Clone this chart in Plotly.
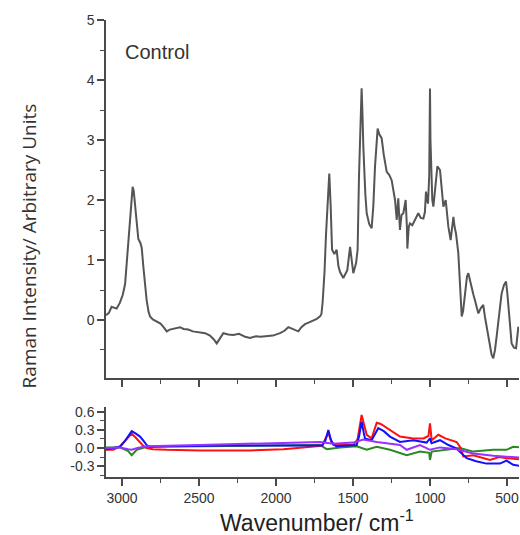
import plotly.graph_objects as go

# ---- Control spectrum (top panel) ----
control_wn = [3104,3085,3068,3050,3035,3015,2995,2980,2965,2950,2940,2931,2924,2916,2905,2894,2880,2872,2860,2850,2840,2828,2818,2800,2775,2750,2730,2710,2690,2660,2623,2600,2570,2540,2494,2460,2429,2405,2385,2365,2342,2310,2278,2240,2200,2169,2130,2100,2061,2020,1974,1945,1920,1890,1855,1835,1812,1785,1758,1735,1714,1705,1697,1685,1675,1664,1654,1645,1636,1621,1606,1595,1584,1563,1550,1537,1519,1508,1498,1480,1470,1461,1452,1444,1438,1433,1420,1411,1395,1379,1368,1357,1340,1330,1314,1300,1281,1265,1249,1235,1227,1216,1206,1195,1185,1173,1158,1150,1147,1138,1130,1115,1097,1076,1060,1043,1033,1026,1018,1013,1005,1002,1000,997,991,985,978,965,952,935,922,913,898,890,881,866,856,848,840,831,816,805,794,785,773,760,751,740,729,718,708,697,686,670,654,643,632,620,610,600,589,578,566,556,545,535,520,506,498,491,480,470,455,441,426]
control_int = [0.08,0.12,0.22,0.20,0.19,0.28,0.42,0.60,1.10,1.60,1.95,2.22,2.15,1.95,1.60,1.35,1.28,1.20,0.85,0.55,0.33,0.14,0.06,0.01,-0.03,-0.06,-0.12,-0.19,-0.16,-0.14,-0.12,-0.15,-0.16,-0.19,-0.21,-0.22,-0.26,-0.32,-0.39,-0.30,-0.22,-0.24,-0.25,-0.23,-0.28,-0.30,-0.27,-0.28,-0.27,-0.26,-0.22,-0.18,-0.12,-0.15,-0.19,-0.12,-0.07,-0.04,-0.01,0.02,0.06,0.10,0.30,0.80,1.44,2.10,2.44,1.90,1.17,1.10,1.17,0.90,0.80,0.70,0.78,0.83,1.22,1.00,0.78,0.95,1.17,2.40,3.40,3.86,3.40,2.89,2.10,1.78,1.60,1.53,1.90,2.56,3.19,3.10,3.03,2.75,2.47,2.42,2.33,2.15,2.00,1.67,2.03,1.50,1.75,1.78,2.00,1.55,1.19,1.55,1.61,1.58,1.67,1.78,1.70,1.69,1.80,2.14,2.00,1.94,2.40,3.30,3.86,3.00,2.28,2.00,1.89,2.20,2.56,2.50,2.10,1.89,2.00,1.75,1.56,1.33,1.55,1.72,1.55,1.44,1.11,0.55,0.06,0.15,0.44,0.72,0.78,0.65,0.50,0.42,0.33,0.20,0.11,0.20,0.25,0.05,-0.11,-0.30,-0.44,-0.58,-0.64,-0.50,-0.25,0.00,0.25,0.44,0.58,0.64,0.45,0.22,-0.15,-0.39,-0.46,-0.47,-0.11]

# ---- Difference spectra (bottom panel) ----
green_wn = [3104,3013,2960,2937,2905,2840,2500,2100,1714,1671,1584,1476,1411,1346,1260,1151,1065,1005,1000,989,892,806,719,589,503,460,416]
green_int = [0.01,0.01,-0.05,-0.12,-0.03,0.02,0.03,0.04,0.05,-0.02,0.01,0.03,-0.03,0.02,-0.03,-0.12,-0.06,-0.08,-0.20,-0.06,-0.03,0.00,-0.06,-0.03,-0.03,0.02,0.01]

red_wn = [3104,3056,3013,2980,2937,2910,2883,2860,2840,2800,2710,2494,2169,1952,1736,1700,1680,1660,1640,1610,1498,1470,1444,1425,1411,1379,1346,1320,1260,1195,1108,1043,1010,1000,989,946,900,827,800,784,719,611,550,503,416]
red_int = [-0.03,-0.03,0.03,0.12,0.24,0.17,0.10,0.03,0.00,-0.02,-0.03,-0.04,-0.04,-0.02,0.03,0.04,0.15,0.25,0.10,0.05,0.05,0.15,0.55,0.35,0.22,0.16,0.42,0.40,0.30,0.19,0.16,0.16,0.20,0.41,0.13,0.22,0.16,0.10,0.00,-0.14,-0.12,-0.20,-0.15,-0.17,-0.19]

blue_wn = [3104,3013,2980,2937,2910,2883,2860,2840,2820,2700,2300,1900,1700,1680,1660,1645,1630,1606,1476,1460,1444,1430,1422,1379,1336,1300,1260,1195,1108,1022,1000,990,935,880,827,762,700,633,546,503,460,416]
blue_int = [-0.02,0.02,0.12,0.28,0.24,0.19,0.12,0.05,0.02,0.03,0.04,0.04,0.04,0.12,0.30,0.15,0.06,0.03,0.05,0.20,0.44,0.25,0.16,0.13,0.33,0.28,0.19,0.10,0.13,0.09,0.16,0.08,0.13,0.05,-0.01,-0.17,-0.22,-0.26,-0.26,-0.21,-0.28,-0.30]

purple_wn = [3104,3013,2960,2937,2900,2840,2500,2100,1714,1627,1498,1433,1346,1195,1151,1065,1000,935,827,719,589,416]
purple_int = [0.00,0.01,-0.02,-0.03,0.00,0.03,0.05,0.08,0.10,0.07,0.09,0.14,0.10,0.05,-0.03,0.05,-0.03,0.01,-0.02,-0.09,-0.13,-0.16]

x_ticks = [3000, 2500, 2000, 1500, 1000, 500]
x_range = [3104, 422]
axis_col = "#4a4a4a"
tick_font = dict(family="Liberation Sans, Arial, sans-serif", size=14, color="#333333")

fig = go.Figure()
fig.add_trace(go.Scatter(x=control_wn, y=control_int, mode="lines",
                         line=dict(color="#555555", width=2), xaxis="x", yaxis="y",
                         showlegend=False))
for wn, iv, col in [(green_wn, green_int, "#2a8a22"), (red_wn, red_int, "#ff1010"),
                    (blue_wn, blue_int, "#1010ff"), (purple_wn, purple_int, "#9b30ff")]:
    fig.add_trace(go.Scatter(x=wn, y=iv, mode="lines", line=dict(color=col, width=2),
                             xaxis="x2", yaxis="y2", showlegend=False))

common_x = dict(range=x_range, tickvals=x_ticks, showline=True, linecolor=axis_col,
                linewidth=1.5, tickcolor=axis_col, tickwidth=1.5, ticklen=7,
                showgrid=False, zeroline=False, tickfont=tick_font, automargin=False,
                minor=dict(dtick=250, tick0=0, ticklen=4, tickcolor=axis_col, tickwidth=1.2,
                           showgrid=False))
common_y = dict(showline=True, linecolor=axis_col, linewidth=1.5, tickcolor=axis_col,
                tickwidth=1.5, ticklen=7, showgrid=False, zeroline=False,
                tickfont=tick_font, automargin=False)
fig.update_layout(
    width=520, height=535,
    margin=dict(l=106, r=1, t=20, b=58),
    paper_bgcolor="white", plot_bgcolor="white",
    xaxis=dict(common_x, anchor="y", ticks="outside", showticklabels=False),
    xaxis2=dict(common_x, anchor="y2", ticks="outside", showticklabels=True),
    xaxis3=dict(common_x, anchor="y", overlaying="x", side="top", ticks="inside",
                showticklabels=False),
    xaxis4=dict(common_x, anchor="y2", overlaying="x2", side="top", ticks="inside",
                showticklabels=False),
    yaxis=dict(common_y, domain=[0.2166, 1], range=[-0.967, 5], tickvals=[0, 1, 2, 3, 4, 5],
               ticks="outside", anchor="x",
               minor=dict(dtick=0.5, tick0=0, ticklen=4, tickcolor=axis_col, tickwidth=1.2)),
    yaxis2=dict(common_y, domain=[0, 0.1532], range=[-0.483, 0.683],
                tickvals=[-0.3, 0, 0.3, 0.6], ticktext=["-0.3", "0.0", "0.3", "0.6"],
                ticks="outside", anchor="x2",
                minor=dict(dtick=0.15, tick0=0, ticklen=4, tickcolor=axis_col, tickwidth=1.2)),
    yaxis3=dict(common_y, domain=[0.2166, 1], range=[-0.967, 5], tickvals=[0, 1, 2, 3, 4, 5],
                overlaying="y", side="right", anchor="x", ticks="inside",
                showticklabels=False,
                minor=dict(dtick=0.5, tick0=0, ticklen=4, tickcolor=axis_col, tickwidth=1.2)),
    yaxis4=dict(common_y, domain=[0, 0.1532], range=[-0.483, 0.683],
                tickvals=[-0.3, 0, 0.3, 0.6],
                overlaying="y2", side="right", anchor="x2", ticks="inside",
                showticklabels=False,
                minor=dict(dtick=0.15, tick0=0, ticklen=4, tickcolor=axis_col, tickwidth=1.2)),
    annotations=[
        dict(text="Control", x=0.041, y=0.93, xref="paper", yref="paper",
             xanchor="left", yanchor="middle", showarrow=False,
             font=dict(family="Liberation Sans, Arial, sans-serif", size=20, color="#333333")),
        dict(text="Raman Intensity/ Arbitrary Units", x=-0.186, y=0.505, xref="paper",
             yref="paper", xanchor="center", yanchor="middle", textangle=-90,
             showarrow=False,
             font=dict(family="Open Sans, sans-serif", size=19, color="#333333")),
        dict(text="Wavenumber/ cm<sup>-1</sup>", x=0.511, y=-0.097, xref="paper",
             yref="paper", xanchor="center", yanchor="middle", showarrow=False,
             font=dict(family="Liberation Sans, Arial, sans-serif", size=23, color="#222222")),
    ],
)
fig.write_html("out.html", config={"displayModeBar": False},
               post_script="document.body.style.margin='0';document.body.style.overflow='hidden';")
